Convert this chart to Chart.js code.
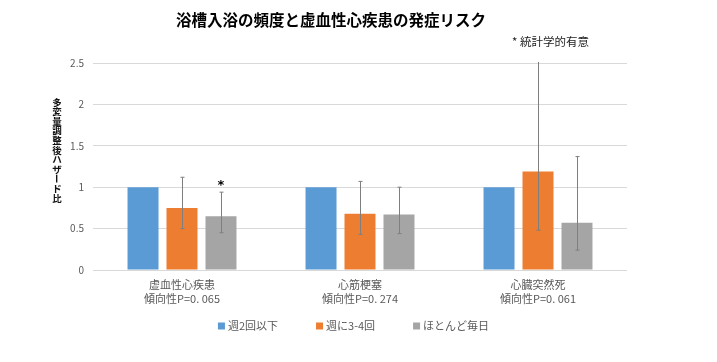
<!DOCTYPE html>
<html><head><meta charset="utf-8">
<script src="https://cdn.jsdelivr.net/npm/chart.js@4/dist/chart.umd.min.js"></script>
<style>html,body{margin:0;padding:0;background:#fff}#wrap{width:717px;height:362px;position:relative}</style>
</head><body><div id="wrap"><canvas id="c" width="717" height="362"></canvas></div>
<script>
const titleText = '浴槽入浴の頻度と虚血性心疾患の発症リスク';
const noteText = '* 統計学的有意';
const yAxisTitle = '多変量調整後ハザード比';
const categories = [['虚血性心疾患', '傾向性P=0. 065'], ['心筋梗塞', '傾向性P=0. 274'], ['心臓突然死', '傾向性P=0. 061']];
const seriesNames = ['週2回以下', '週に3-4回', 'ほとんど毎日'];
const seriesColors = ['#5B9BD5', '#ED7D31', '#A5A5A5'];
const hrTwiceOrLess = [1, 1, 1];
const hrThreeFour = [0.75, 0.68, 1.19];
const hrAlmostDaily = [0.65, 0.67, 0.57];
const ciLowThreeFour = [0.50, 0.43, 0.48];
const ciHighThreeFour = [1.12, 1.07, 2.95];
const ciLowAlmostDaily = [0.45, 0.44, 0.24];
const ciHighAlmostDaily = [0.94, 1.00, 1.37];
const sigAlmostDaily = [true, false, false];
const yTickLabels = ['0', '0.5', '1', '1.5', '2', '2.5'];

const JP = '"Noto Sans CJK JP", "Noto Sans", sans-serif';

const datasets = [
  { label: seriesNames[0], data: hrTwiceOrLess, backgroundColor: seriesColors[0] },
  { label: seriesNames[1], data: hrThreeFour, backgroundColor: seriesColors[1], errLow: ciLowThreeFour, errHigh: ciHighThreeFour },
  { label: seriesNames[2], data: hrAlmostDaily, backgroundColor: seriesColors[2], errLow: ciLowAlmostDaily, errHigh: ciHighAlmostDaily, sig: sigAlmostDaily }
].map(d => Object.assign(d, { categoryPercentage: 0.657, barPercentage: 0.795 }));

const extras = {
  id: 'extras',
  afterDatasetsDraw(chart) {
    const ctx = chart.ctx, y = chart.scales.y, area = chart.chartArea;
    ctx.save();
    ctx.beginPath();
    ctx.rect(area.left, area.top - 1, area.right - area.left, area.bottom - area.top + 2);
    ctx.clip();
    ctx.strokeStyle = '#7f7f7f';
    ctx.lineWidth = 1;
    chart.data.datasets.forEach((ds, di) => {
      if (!ds.errLow) return;
      const meta = chart.getDatasetMeta(di);
      meta.data.forEach((bar, i) => {
        const x = Math.round(bar.x) + 0.5;
        const yl = y.getPixelForValue(ds.errLow[i]);
        const yh = y.getPixelForValue(ds.errHigh[i]);
        ctx.beginPath();
        ctx.moveTo(x, yl); ctx.lineTo(x, yh);
        ctx.moveTo(x - 2, yl); ctx.lineTo(x + 2, yl);
        ctx.moveTo(x - 2, yh); ctx.lineTo(x + 2, yh);
        ctx.stroke();
      });
    });
    ctx.restore();
    ctx.save();
    chart.data.datasets.forEach((ds, di) => {
      if (!ds.sig) return;
      const meta = chart.getDatasetMeta(di);
      meta.data.forEach((bar, i) => {
        if (!ds.sig[i]) return;
        ctx.fillStyle = '#000';
        ctx.font = 'bold 13px "DejaVu Sans", sans-serif';
        ctx.textAlign = 'center';
        ctx.textBaseline = 'middle';
        ctx.fillText('*', bar.x, y.getPixelForValue(ds.errHigh[i]) - 7);
      });
    });
    ctx.restore();
  },
  afterDraw(chart) {
    const ctx = chart.ctx;
    ctx.save();
    ctx.fillStyle = '#000';
    ctx.font = 'bold 15.5px ' + JP;
    ctx.textAlign = 'center';
    ctx.textBaseline = 'middle';
    ctx.fillText(titleText, 331, 20);
    ctx.font = '11.5px ' + JP;
    ctx.fillStyle = '#222';
    ctx.textAlign = 'left';
    ctx.fillText(noteText, 512, 42);
    // vertical axis title
    ctx.font = 'bold 9.5px ' + JP;
    ctx.textAlign = 'center';
    ctx.fillStyle = '#111';
    Array.from(yAxisTitle).forEach((ch, k) => {
      const cy = 102 + k * 9.6;
      if (ch === 'ー') {
        ctx.save();
        ctx.translate(57, cy);
        ctx.rotate(Math.PI / 2);
        ctx.fillText(ch, 0, 0);
        ctx.restore();
      } else {
        ctx.fillText(ch, 57, cy);
      }
    });
    // legend
    ctx.font = '11px ' + JP;
    ctx.textAlign = 'left';
    const box = 7, gapBox = 3, gapItem = 38;
    const widths = seriesNames.map(n => box + gapBox + ctx.measureText(n).width);
    const total = widths.reduce((a, b) => a + b, 0) + gapItem * (seriesNames.length - 1);
    let x = 353.5 - total / 2;
    const ly = 326;
    seriesNames.forEach((n, i) => {
      ctx.fillStyle = seriesColors[i];
      ctx.fillRect(x, ly - box / 2, box, box);
      ctx.fillStyle = '#595959';
      ctx.fillText(n, x + box + gapBox, ly);
      x += widths[i] + gapItem;
    });
    ctx.restore();
  }
};

new Chart(document.getElementById('c'), {
  type: 'bar',
  data: { labels: categories, datasets },
  options: {
    responsive: false,
    animation: false,
    layout: { padding: { top: 63, right: 90, bottom: 52, left: 0 } },
    plugins: {
      title: { display: false },
      tooltip: { enabled: false },
      legend: { display: false }
    },
    scales: {
      x: {
        grid: { display: false },
        border: { display: false },
        ticks: { color: '#595959', padding: 0, font: { size: 11, family: JP, lineHeight: 1.25 } },
        afterFit(s) { s.height = 40; }
      },
      y: {
        min: 0, max: 2.5,
        grid: { color: '#d9d9d9', drawTicks: false },
        border: { display: false },
        ticks: {
          stepSize: 0.5, padding: 9, color: '#595959', font: { size: 10, family: JP },
          callback: (v, i) => yTickLabels[i]
        },
        afterFit(s) { s.width = 93; }
      }
    }
  },
  plugins: [extras]
});
</script></body></html>
